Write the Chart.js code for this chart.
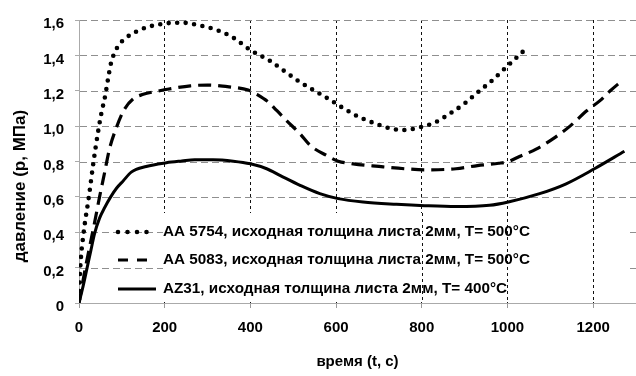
<!DOCTYPE html>
<html>
<head>
<meta charset="utf-8">
<script src="https://cdn.jsdelivr.net/npm/chart.js@4.4.1/dist/chart.umd.min.js"></script>
<style>
  body { margin: 0; background: #fff; }
  #wrap { width: 636px; height: 376px; }
</style>
</head>
<body>
<div id="wrap"><canvas id="pressureChart" width="636" height="376"></canvas></div>
<script>
// Series labels (legend)
const seriesNames = [
  "AA 5754, исходная толщина листа 2мм, T= 500°C",
  "AA 5083, исходная толщина листа 2мм, T= 500°C",
  "AZ31, исходная толщина листа 2мм, T= 400°C",
];

// AA 5754 (dotted)
const time5754 = [0, 3, 11, 23, 34, 44, 52, 61, 68, 75, 84, 95, 110, 130, 160, 200, 240, 280, 320, 360, 400, 445, 480, 515, 550, 585, 620, 655, 695, 730, 760, 790, 830, 865, 900, 930, 965, 1000, 1040];
const press5754 = [0.02, 0.2, 0.4, 0.6, 0.8, 0.96, 1.07, 1.17, 1.27, 1.36, 1.42, 1.465, 1.5, 1.53, 1.56, 1.58, 1.585, 1.57, 1.545, 1.5, 1.43, 1.37, 1.31, 1.25, 1.2, 1.15, 1.097, 1.05, 1.012, 0.985, 0.978, 0.99, 1.02, 1.07, 1.128, 1.19, 1.26, 1.34, 1.43];

// AA 5083 (dashed)
const time5083 = [0, 15, 25, 36, 48, 60, 71, 87, 104, 126, 150, 180, 210, 260, 300, 350, 395, 415, 440, 462, 485, 516, 540, 578, 605, 640, 700, 760, 810, 880, 930, 980, 1002, 1028, 1067, 1106, 1146, 1185, 1216, 1240, 1267];
const press5083 = [0, 0.2, 0.32, 0.45, 0.6, 0.74, 0.87, 0.99, 1.087, 1.153, 1.18, 1.196, 1.21, 1.228, 1.232, 1.222, 1.204, 1.18, 1.14, 1.087, 1.03, 0.956, 0.89, 0.834, 0.802, 0.787, 0.772, 0.759, 0.753, 0.759, 0.777, 0.79, 0.8, 0.828, 0.87, 0.928, 1.0, 1.087, 1.144, 1.2, 1.256];

// AZ31 (solid)
const timeAZ31 = [0, 10, 19, 28, 36, 48, 60, 74, 88, 103, 122, 157, 204, 240, 270, 313, 360, 400, 438, 470, 516, 562, 605, 663, 741, 807, 880, 958, 1002, 1075, 1137, 1203, 1273];
const pressAZ31 = [0, 0.1, 0.2, 0.3, 0.39, 0.48, 0.54, 0.6, 0.65, 0.69, 0.74, 0.772, 0.793, 0.803, 0.81, 0.81, 0.802, 0.787, 0.759, 0.72, 0.665, 0.618, 0.59, 0.571, 0.558, 0.55, 0.545, 0.552, 0.571, 0.618, 0.674, 0.759, 0.858];

// Tick labels
const xTickLabels = ["0", "200", "400", "600", "800", "1000", "1200"];
const yTickLabels = ["0", "0,2", "0,4", "0,6", "0,8", "1,0", "1,2", "1,4", "1,6"];

function toPoints(xs, ys) {
  return xs.map((x, i) => ({ x: x, y: ys[i] }));
}

const FONT = "'Liberation Sans', Arial, sans-serif";

// Dashed grey horizontal grid + legend drawn inside the plot on a white patch
const insideLegend = {
  id: "insideLegend",
  beforeDatasetsDraw(chart) {
    const { ctx, chartArea, scales } = chart;
    ctx.save();
    ctx.strokeStyle = "#8f8f8f";
    ctx.lineWidth = 1;
    ctx.setLineDash([7, 4]);
    scales.y.ticks.forEach((tick) => {
      if (tick.value > 0) {
        const y = Math.round(scales.y.getPixelForValue(tick.value)) + 0.5;
        ctx.beginPath();
        ctx.moveTo(chartArea.left + 1, y);
        ctx.lineTo(chartArea.right, y);
        ctx.stroke();
      }
    });

    const left = chartArea.left + 84;
    const right = chartArea.right - 8;
    const top = chartArea.bottom - 90;
    const bottom = chartArea.bottom - 1;
    ctx.fillStyle = "#fff";
    ctx.fillRect(left, top, right - left, bottom - top);
    // the right-hand vertical grid lines still run through the legend
    ctx.strokeStyle = "#111";
    ctx.setLineDash([3, 3]);
    scales.x.ticks.forEach((tick) => {
      if (tick.value >= 800) {
        const x = Math.round(scales.x.getPixelForValue(tick.value)) + 0.5;
        ctx.beginPath();
        ctx.moveTo(x, top);
        ctx.lineTo(x, bottom);
        ctx.stroke();
      }
    });
    ctx.restore();
  },
  afterDatasetsDraw(chart) {
    const { ctx, chartArea } = chart;
    const rows = [71, 43, 14];
    const sampleDash = [[0, 9.5], [10, 9], []];
    const textWidth = 367;
    ctx.save();
    chart.data.datasets.forEach((ds, i) => {
      const y = chartArea.bottom - rows[i];
      ctx.strokeStyle = "#000";
      ctx.lineWidth = ds.borderWidth;
      ctx.lineCap = ds.borderCapStyle || "butt";
      ctx.setLineDash(sampleDash[i]);
      ctx.beginPath();
      ctx.moveTo(chartArea.left + 39, y);
      ctx.lineTo(chartArea.left + 77, y);
      ctx.stroke();
      ctx.setLineDash([]);
      // text is a bit stretched sideways in the original
      ctx.fillStyle = "#000";
      ctx.font = "bold 14px " + FONT;
      ctx.textBaseline = "middle";
      const sx = textWidth / ctx.measureText(seriesNames[0]).width;
      ctx.save();
      ctx.translate(chartArea.left + 84, y);
      ctx.scale(sx, 1);
      ctx.fillText(ds.label, 0, 0);
      ctx.restore();
    });
    // y axis title
    ctx.translate(20, chartArea.top + 166);
    ctx.rotate(-Math.PI / 2);
    ctx.textAlign = "center";
    ctx.textBaseline = "middle";
    ctx.font = "bold 17px " + FONT;
    ctx.fillText("давление (р, МПа)", 0, 0);
    ctx.restore();
  },
};

const ctx = document.getElementById("pressureChart").getContext("2d");
new Chart(ctx, {
  type: "line",
  data: {
    datasets: [
      {
        label: seriesNames[0],
        data: toPoints(time5754, press5754),
        borderColor: "#000",
        borderWidth: 4.6,
        borderDash: [0, 8.5],
        borderCapStyle: "round",
      },
      {
        label: seriesNames[1],
        data: toPoints(time5083, press5083),
        borderColor: "#000",
        borderWidth: 3.2,
        borderDash: [13, 7],
      },
      {
        label: seriesNames[2],
        data: toPoints(timeAZ31, pressAZ31),
        borderColor: "#000",
        borderWidth: 3,
      },
    ],
  },
  options: {
    responsive: false,
    animation: false,
    devicePixelRatio: 1,
    cubicInterpolationMode: "monotone",
    pointRadius: 0,
    layout: { padding: { top: 19, right: 0, left: 0, bottom: 0 } },
    plugins: {
      legend: { display: false },
      tooltip: { enabled: false },
    },
    scales: {
      x: {
        type: "linear",
        min: 0,
        max: 1300,
        afterFit: (scale) => { scale.height = 73; },
        ticks: {
          stepSize: 200,
          includeBounds: false,
          padding: 11,
          color: "#000",
          font: { family: FONT, size: 15, weight: "bold" },
          callback: (value, index) => xTickLabels[index],
        },
        grid: {
          color: (c) => (c.tick && c.tick.value === 0 ? "rgba(0,0,0,0)" : "#111"),
          tickColor: "#999",
          tickLength: 5,
          tickBorderDash: [],
        },
        border: { color: "#aaa", width: 1, dash: [3, 3] },
        title: {
          display: true,
          text: "время (t, с)",
          color: "#000",
          font: { family: FONT, size: 15, weight: "bold" },
          padding: { top: 0, bottom: 5 },
        },
      },
      y: {
        min: 0,
        max: 1.6,
        afterFit: (scale) => { scale.width = 79; },
        ticks: {
          stepSize: 0.2,
          padding: 11,
          labelOffset: 4,
          color: "#000",
          font: { family: FONT, size: 15, weight: "bold" },
          callback: (value, index) => yTickLabels[index],
        },
        grid: {
          drawOnChartArea: false,
          tickColor: "#aaa",
          tickLength: 4,
          tickBorderDash: [],
        },
        border: { color: "#aaa", width: 1 },
      },
    },
  },
  plugins: [insideLegend],
});
</script>
</body>
</html>
